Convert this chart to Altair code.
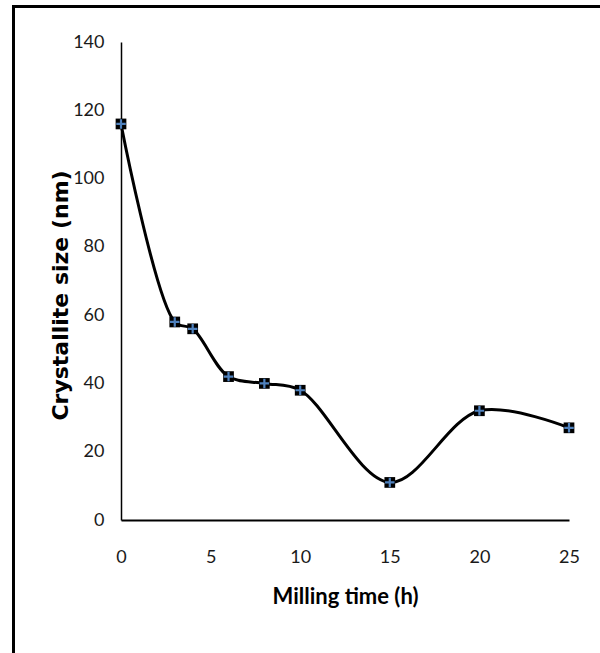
import altair as alt
import pandas as pd

milling_time = [0, 3, 4, 6, 8, 10, 15, 20, 25]
crystallite_size = [116, 58, 56, 42, 40, 38, 11, 32, 27]

df = pd.DataFrame({"t": milling_time, "s": crystallite_size})

W, H = 448, 478
NARROW = "Lato, sans-serif"

x = alt.X("t:Q", scale=alt.Scale(domain=[0, 25], nice=False),
          axis=alt.Axis(values=[0, 5, 10, 15, 20, 25], title="Milling time (h)",
                        ticks=False, grid=False, domainColor="black", domainWidth=2,
                        labelFont=NARROW, labelFontSize=18, labelColor="#1a1a1a",
                        labelPadding=28, labelFlush=False,
                        titleFont=NARROW, titleFontSize=22, titleFontWeight="bold",
                        titleColor="black", titlePadding=20))
y = alt.Y("s:Q", scale=alt.Scale(domain=[0, 140], nice=False),
          axis=alt.Axis(values=[0, 20, 40, 60, 80, 100, 120, 140], title="Crystallite size (nm)",
                        ticks=False, grid=False, domainColor="black", domainWidth=1.5,
                        labelFont=NARROW, labelFontSize=18, labelColor="#1a1a1a",
                        labelPadding=17,
                        titleFont="DejaVu Sans", titleFontSize=22, titleFontWeight="bold",
                        titleColor="black", titleAngle=270, titleX=-61, titleY=253,
                        titleAlign="center", titleBaseline="middle"))

base = alt.Chart(df)

line = base.mark_line(color="black", strokeWidth=3, interpolate="catmull-rom").encode(x=x, y=y)
squares = base.mark_point(shape="square", filled=True, color="black", size=115, opacity=1).encode(x="t:Q", y="s:Q")
plus = base.mark_point(shape="M-1,0H1M0,-1V1", filled=False, color="#4F81BD", size=90,
                       strokeWidth=2.2, opacity=1).encode(x="t:Q", y="s:Q")

frame_top = alt.Chart(df).mark_rule(color="black", strokeWidth=3).encode(
    x=alt.value(-108), x2=alt.value(480), y=alt.value(-35.5), y2=alt.value(-35.5))
frame_left = alt.Chart(df).mark_rule(color="black", strokeWidth=2).encode(
    x=alt.value(-107.5), x2=alt.value(-107.5), y=alt.value(-37), y2=alt.value(612))

chart = alt.layer(line, squares, plus, frame_top, frame_left).properties(
    width=W, height=H,
    autosize=alt.AutoSizeParams(type="none"),
    padding={"left": 121, "top": 42, "right": 31, "bottom": 133},
    background="white",
).configure_view(stroke=None)

chart.save("out.html", embed_options={"renderer": "svg", "actions": False})
